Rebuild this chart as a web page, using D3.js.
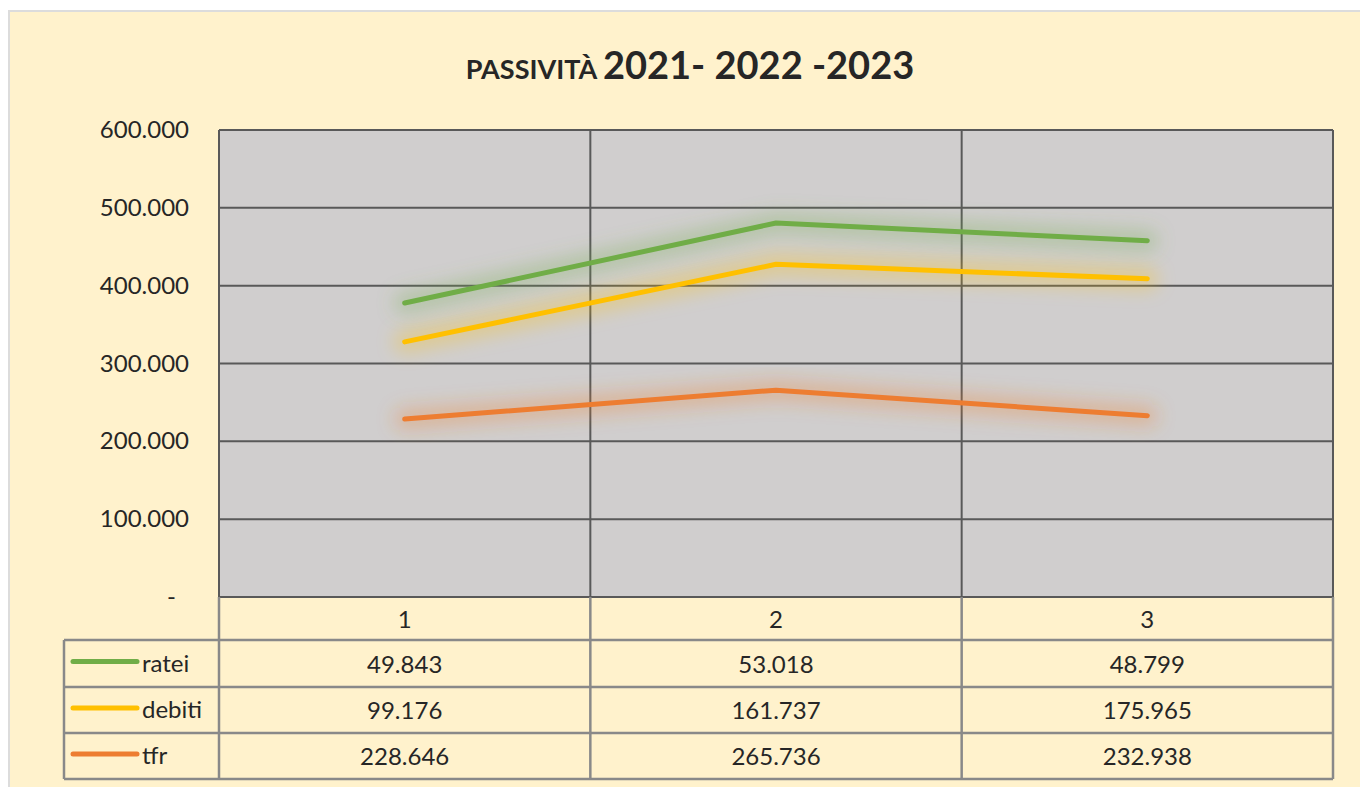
<!DOCTYPE html>
<html><head><meta charset="utf-8">
<script src="https://cdn.jsdelivr.net/npm/d3@7"></script>
<style>
body{margin:0;background:#fff;}
svg{display:block;}
text{font-family:Lato,"Open Sans",sans-serif;fill:#262626;}
</style></head>
<body>
<svg id="c" width="1360" height="787"></svg>
<script>
const categories = ["1","2","3"];
const seriesNames = ["tfr","debiti","ratei"];
const tfr = [228646, 265736, 232938];
const debiti = [99176, 161737, 175965];
const ratei = [49843, 53018, 48799];
const yTicks = [0,100000,200000,300000,400000,500000,600000];
const colors = {ratei:"#70AD47", debiti:"#FFC000", tfr:"#ED7D31"};
const tableOrder = ["ratei","debiti","tfr"];
const values = {tfr, debiti, ratei};

const svg = d3.select("#c");
// frame
svg.append("rect").attr("x",8).attr("y",10).attr("width",1352).attr("height",777).attr("fill","#DCDCDC");
svg.append("rect").attr("x",10).attr("y",12).attr("width",1350).attr("height",775).attr("fill","#FFF2CC");

const L=219, R=1333, T=130, B=597;
const x = d3.scaleBand().domain(categories).range([L,R]);
const y = d3.scaleLinear().domain([0,600000]).range([B,T]);

// title
const title = svg.append("text").attr("x",690).attr("y",79).attr("text-anchor","middle").style("font-weight","bold");
title.append("tspan").text("PASSIVITÀ ").style("font-size","27px");
title.append("tspan").text("2021- 2022 -2023").style("font-size","38px");

// plot bg
svg.append("rect").attr("x",L).attr("y",T).attr("width",R-L).attr("height",B-T).attr("fill","#D0CECE");

function lbl(v){ if(v===0) return "-"; return d3.format(",")(v).replace(/,/g,"."); }
svg.append("g").selectAll("line").data(yTicks).join("line")
 .attr("x1",L).attr("x2",R).attr("y1",d=>y(d)).attr("y2",d=>y(d))
 .attr("stroke","#595959").attr("stroke-width",2);
const vb = categories.map(c=>x(c)).concat([R]);
svg.append("g").selectAll("line").data(vb).join("line")
 .attr("x1",d=>d).attr("x2",d=>d).attr("y1",T).attr("y2",B)
 .attr("stroke","#595959").attr("stroke-width",2);

// y labels
svg.append("g").selectAll("text").data(yTicks).join("text")
 .attr("x",d=>d===0?176:189).attr("y",d=>y(d)+8).attr("text-anchor","end").style("font-size","24px")
 .text(d=>lbl(d));

// stacked lines
const rows = categories.map((c,i)=>({cat:c, tfr:tfr[i], debiti:debiti[i], ratei:ratei[i]}));
const stack = d3.stack().keys(seriesNames)(rows);
const defs = svg.append("defs");
defs.append("filter").attr("id","glow").attr("x","-20%").attr("y","-80%").attr("width","140%").attr("height","260%")
 .append("feGaussianBlur").attr("stdDeviation",9);
const line = d3.line().x((d,i)=>x(categories[i])+x.bandwidth()/2).y(d=>y(d[1]));
const gl = svg.append("g");
stack.forEach(s=>{
  gl.append("path").attr("d",line(s)).attr("fill","none").attr("stroke",colors[s.key])
    .attr("stroke-width",22).attr("stroke-opacity",0.3).attr("filter","url(#glow)").attr("stroke-linecap","round");
});
stack.forEach(s=>{
  gl.append("path").attr("d",line(s)).attr("fill","none").attr("stroke",colors[s.key])
    .attr("stroke-width",5).attr("stroke-linecap","round").attr("stroke-linejoin","round");
});

// data table
const rowY = [597,640,687,733,779];
const tg = svg.append("g");
const tc = "#898989";
tg.selectAll("text.h").data(categories).join("text").attr("class","h")
 .attr("x",d=>x(d)+x.bandwidth()/2).attr("y",628).attr("text-anchor","middle").style("font-size","24px").text(d=>d);
[640,687,733,779].forEach(yy=>{
  tg.append("line").attr("x1",64).attr("x2",R).attr("y1",yy).attr("y2",yy).attr("stroke",tc).attr("stroke-width",2.5);
});
vb.forEach(xx=>{
  tg.append("line").attr("x1",xx).attr("x2",xx).attr("y1",B).attr("y2",779).attr("stroke",tc).attr("stroke-width",2.5);
});
tg.append("line").attr("x1",64).attr("x2",64).attr("y1",640).attr("y2",779).attr("stroke",tc).attr("stroke-width",2.5);
const numFmt = v => d3.format(",")(v).replace(/,/g,".");
tableOrder.forEach((k,ri)=>{
  const cy = (rowY[ri+1]+rowY[ri+2])/2;
  tg.append("line").attr("x1",73).attr("x2",137).attr("y1",cy-2).attr("y2",cy-2)
    .attr("stroke",colors[k]).attr("stroke-width",5).attr("stroke-linecap","round");
  tg.append("text").attr("x",142).attr("y",cy+8).style("font-size","24px").text(k);
  categories.forEach((c,ci)=>{
    tg.append("text").attr("x",x(c)+x.bandwidth()/2).attr("y",cy+9).attr("text-anchor","middle")
      .style("font-size","24px").text(numFmt(values[k][ci]));
  });
});
</script>
</body></html>
